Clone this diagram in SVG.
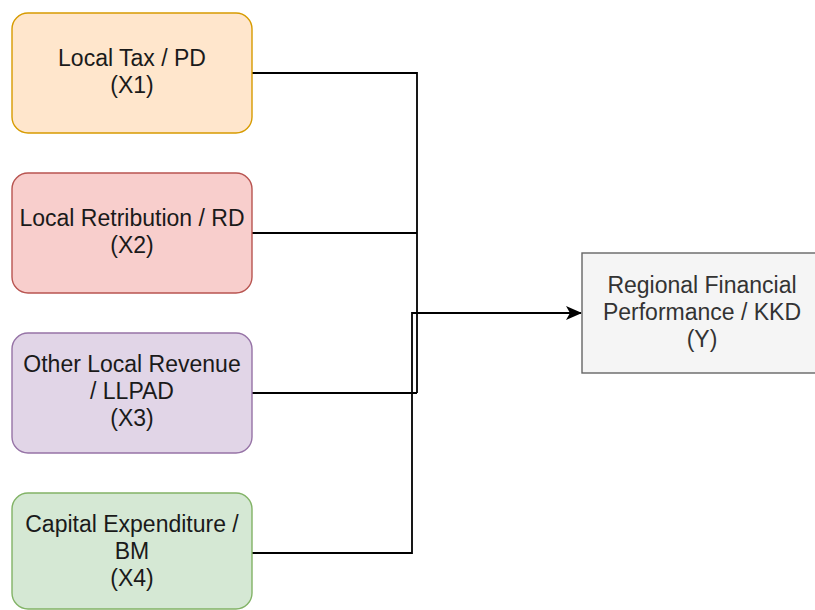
<svg xmlns="http://www.w3.org/2000/svg" width="815" height="610" viewBox="0 0 815 610">
<style>
.t{font-family:"Liberation Sans",Arial,sans-serif;font-size:23px;text-anchor:middle;fill:#1a1a1a}
.ty{fill:#333333}
.e{fill:none;stroke:#000;stroke-width:1.8}
.b{stroke-width:1.4}
</style>
<defs>
<marker id="arr" viewBox="0 0 16 14" refX="15" refY="7" markerWidth="16" markerHeight="14" markerUnits="userSpaceOnUse" orient="auto">
<path d="M0,0 L16,7 L0,14 L4,7 Z" fill="#000"/>
</marker>
</defs>
<rect width="815" height="610" fill="#fff"/>
<g id="connectors">
<path class="e" d="M252,73 H417 V393"/>
<path class="e" d="M252,233 H417"/>
<path class="e" d="M252,393 H417"/>
<path class="e" d="M252,553 H412 V313 H581" marker-end="url(#arr)"/>
</g>
<g id="x1">
<rect class="b" x="12" y="13" width="240" height="120" rx="16" fill="#ffe6cc" stroke="#d79b00"/>
<text class="t" x="132" y="66">Local Tax / PD</text>
<text class="t" x="132" y="93">(X1)</text>
</g>
<g id="x2">
<rect class="b" x="12" y="173" width="240" height="120" rx="16" fill="#f8cecc" stroke="#b85450"/>
<text class="t" x="132" y="226">Local Retribution / RD</text>
<text class="t" x="132" y="253">(X2)</text>
</g>
<g id="x3">
<rect class="b" x="12" y="333" width="240" height="120" rx="16" fill="#e1d5e7" stroke="#9673a6"/>
<text class="t" x="132" y="372">Other Local Revenue</text>
<text class="t" x="132" y="399">/ LLPAD</text>
<text class="t" x="132" y="426">(X3)</text>
</g>
<g id="x4">
<rect class="b" x="12" y="493" width="240" height="116" rx="16" fill="#d5e8d4" stroke="#82b366"/>
<text class="t" x="132" y="532">Capital Expenditure /</text>
<text class="t" x="132" y="559">BM</text>
<text class="t" x="132" y="586">(X4)</text>
</g>
<g id="y">
<rect class="b" x="582" y="253" width="240" height="120" fill="#f5f5f5" stroke="#666666"/>
<text class="t ty" x="702" y="293">Regional Financial</text>
<text class="t ty" x="702" y="320">Performance / KKD</text>
<text class="t ty" x="702" y="347">(Y)</text>
</g>
</svg>
